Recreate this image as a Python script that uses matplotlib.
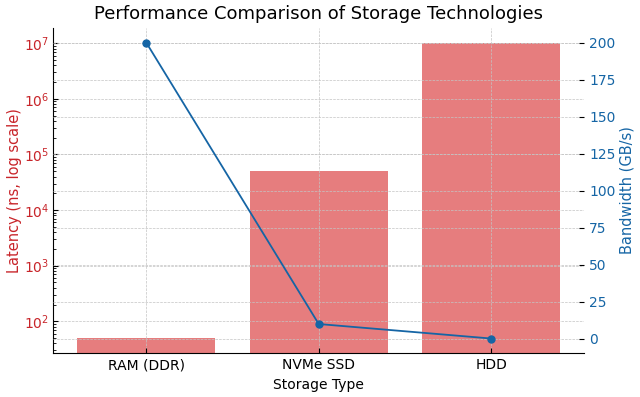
import numpy as np
import matplotlib.pyplot as plt

storage = ["RAM (DDR)", "NVMe SSD", "HDD"]
latency_ns = [50, 50000, 10000000]
bandwidth_gbs = [200, 10, 0.2]

red = "#c8252a"
blue = "#1565a5"

fig, ax1 = plt.subplots(figsize=(6.4, 3.97), dpi=100)

x = np.arange(len(storage))
ax1.bar(x, latency_ns, width=0.8, color="tab:red", alpha=0.6)
ax1.set_yscale("log")
ax1.set_ylim(26.5, 1.9e7)
ax1.set_xticks(x)
ax1.set_xticklabels(storage)
ax1.set_xlabel("Storage Type")
ax1.set_ylabel("Latency (ns, log scale)", color=red, fontsize=10.5)
ax1.yaxis.set_label_coords(-0.059, 0.5)
ax1.tick_params(axis="y", labelcolor=red, labelsize=10, pad=3)
ax1.tick_params(which="both", direction="in")
ax1.grid(True, linestyle="--", linewidth=0.5, color="#c4c4c4")
ax1.spines["top"].set_visible(False)
ax1.spines["right"].set_visible(False)

ax2 = ax1.twinx()
ax2.plot(x, bandwidth_gbs, color=blue, marker="o", markersize=5, linewidth=1.3)
ax2.set_ylabel("Bandwidth (GB/s)", color=blue, fontsize=10.5)
ax2.yaxis.set_label_coords(1.066, 0.5)
ax2.tick_params(axis="y", labelcolor=blue, direction="in", labelsize=10)
ax2.set_yticks(np.arange(0, 201, 25))
ax2.grid(True, axis="y", linestyle="--", linewidth=0.5, color="#c4c4c4")
for s in ["top", "right", "left", "bottom"]:
    ax2.spines[s].set_visible(False)

ax1.set_title("Performance Comparison of Storage Technologies", fontsize=13)
fig.subplots_adjust(left=0.083, right=0.913, top=0.93, bottom=0.11)
fig.savefig("out.png")
